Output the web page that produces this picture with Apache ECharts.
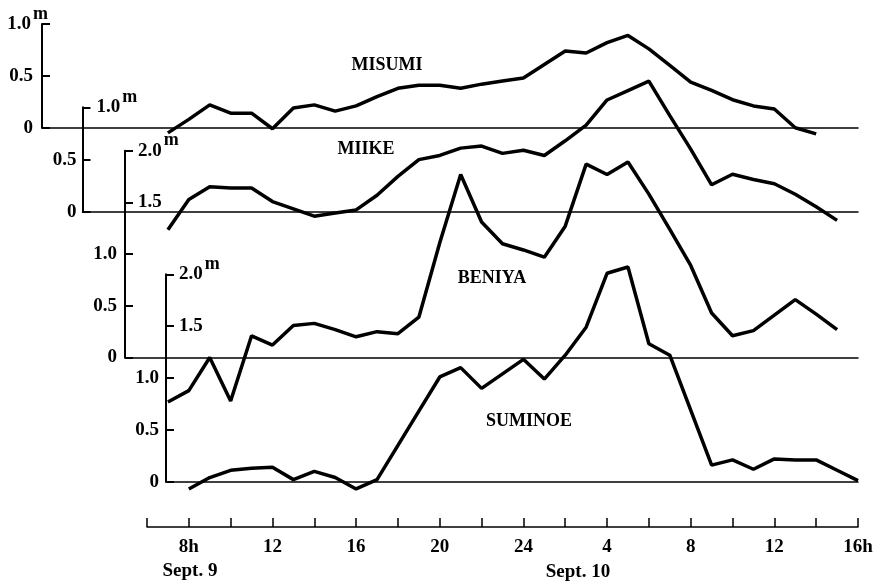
<!DOCTYPE html>
<html><head><meta charset="utf-8">
<script src="https://cdn.jsdelivr.net/npm/echarts@6/dist/echarts.min.js"></script>
<style>html,body{margin:0;padding:0;background:#fff}#c{width:879px;height:583px}</style>
</head><body><div id="c"></div>
<script>
// ---- data (hours counted from 0h Sept. 9; values in metres) ----
const stations = ['MISUMI', 'MIIKE', 'BENIYA', 'SUMINOE'];
const hoursMisumi = [7,8,9,10,11,12,13,14,15,16,17,18,19,20,21,22,23,24,25,26,27,28,29,30,31,32,33,34,35,36,37,38];
const misumi = [-0.05,0.08,0.22,0.14,0.14,-0.01,0.19,0.22,0.16,0.21,0.30,0.38,0.41,0.41,0.38,0.42,0.45,0.48,0.61,0.74,0.72,0.82,0.89,0.76,0.60,0.44,0.36,0.27,0.21,0.18,0.0,-0.06];
const hoursMiike = [7,8,9,10,11,12,13,14,15,16,17,18,19,20,21,22,23,24,25,26,27,28,29,30,31,32,33,34,35,36,37,38,39];
const miike = [-0.17,0.12,0.24,0.23,0.23,0.10,0.03,-0.04,-0.01,0.02,0.16,0.34,0.50,0.54,0.61,0.63,0.56,0.59,0.54,0.68,0.83,1.07,1.16,1.25,0.92,0.60,0.26,0.36,0.31,0.27,0.17,0.05,-0.08];
const hoursBeniya = [7,8,9,10,11,12,13,14,15,16,17,18,19,20,21,22,23,24,25,26,27,28,29,30,31,32,33,34,35,36,37,38,39];
const beniya = [-0.43,-0.32,0.0,-0.42,0.21,0.12,0.31,0.33,0.27,0.20,0.25,0.23,0.39,1.11,1.77,1.31,1.10,1.04,0.97,1.27,1.87,1.77,1.89,1.58,1.24,0.89,0.43,0.21,0.26,0.41,0.56,0.42,0.27];
const hoursSuminoe = [8,9,10,11,12,13,14,15,16,17,18,19,20,21,22,23,24,25,26,27,28,29,30,31,32,33,34,35,36,37,38,39,40];
const suminoe = [-0.07,0.04,0.11,0.13,0.14,0.02,0.10,0.04,-0.07,0.02,0.35,0.68,1.01,1.10,0.90,1.04,1.18,0.99,1.22,1.49,2.01,2.07,1.33,1.22,0.69,0.16,0.21,0.12,0.22,0.21,0.21,0.11,0.01];
const timeLabelHours = [8, 12, 16, 20, 24, 28, 32, 36, 40];
const timeLabels = ['8h', '12', '16', '20', '24', '4', '8', '12', '16h'];
const dayLabels = ['Sept. 9', 'Sept. 10'];

// ---- layout ----
const FONT = '"Liberation Serif", "DejaVu Serif", serif';
const X0 = 147, X1 = 858, H0 = 6, H1 = 40;
const pxH = (X1 - X0) / (H1 - H0);
const panels = [
  {left: 42,   top: 24,    zero: 127.7, max: 1, low: [0, 0.5],    hi: [1],      hiInside: false, lowMargin: 9, hiMargin: -6},
  {left: 82.5, top: 107.3, zero: 212,   max: 1, low: [0, 0.5],    hi: [1],      hiInside: true,  lowMargin: 6, hiMargin: 14},
  {left: 125,  top: 150.7, zero: 357.5, max: 2, low: [0, 0.5, 1], hi: [1.5, 2], hiInside: true,  lowMargin: 8, hiMargin: 13},
  {left: 166,  top: 274.3, zero: 481.7, max: 2, low: [0, 0.5, 1], hi: [1.5, 2], hiInside: true,  lowMargin: 7, hiMargin: 13}
];
const seriesData = [
  hoursMisumi.map((h, i) => [h, misumi[i]]),
  hoursMiike.map((h, i) => [h, miike[i]]),
  hoursBeniya.map((h, i) => [h, beniya[i]]),
  hoursSuminoe.map((h, i) => [h, suminoe[i]])
];
const fmt = v => (v === 0 ? '0' : v.toFixed(1));
const near = (arr, v) => arr.some(a => Math.abs(a - v) < 1e-6);
const labelStyle = {color: '#000', fontFamily: FONT, fontWeight: 'bold', fontSize: 19};
const rich = {
  a: {color: '#000', fontFamily: FONT, fontWeight: 'bold', fontSize: 19},
  m: {color: '#000', fontFamily: FONT, fontWeight: 'bold', fontSize: 18, padding: [0, 0, 20, 2]}
};

const grid = [], xAxis = [], yAxis = [], series = [];
panels.forEach((p, i) => {
  grid.push({left: p.left, top: p.top, width: X1 - p.left, height: p.zero - p.top});
  xAxis.push({type: 'value', gridIndex: i, min: H0 - (X0 - p.left) / pxH, max: H1,
    axisLine: {show: true, lineStyle: {color: '#000', width: 1.5}},
    axisTick: {show: false}, axisLabel: {show: false}, splitLine: {show: false}});
  yAxis.push({type: 'value', gridIndex: i, min: 0, max: p.max, interval: 0.5, position: 'left',
    axisLine: {show: true, lineStyle: {color: '#000', width: 2}},
    axisTick: {show: true, inside: true, length: 8, lineStyle: {color: '#000', width: 2}},
    axisLabel: Object.assign({margin: p.lowMargin, formatter: v => near(p.low, v) ? fmt(v) : ''}, labelStyle),
    splitLine: {show: false}});
  yAxis.push({type: 'value', gridIndex: i, min: 0, max: p.max, interval: 0.5, position: 'left',
    axisLine: {show: false}, axisTick: {show: false},
    axisLabel: {inside: p.hiInside, margin: p.hiMargin, rich: rich,
      formatter: v => near(p.hi, v) ? ('{a|' + fmt(v) + '}' + (Math.abs(v - p.max) < 1e-6 ? '{m|m}' : '')) : ''},
    splitLine: {show: false}});
  series.push({type: 'line', name: stations[i], xAxisIndex: i, yAxisIndex: 2 * i, data: seriesData[i],
    symbol: 'none', clip: false, lineStyle: {color: '#000', width: 3.5}, z: 5});
});

// time axis
grid.push({left: X0, width: X1 - X0, top: 480, height: 47});
xAxis.push({type: 'value', gridIndex: 4, min: H0, max: H1, interval: 2,
  axisLine: {show: true, lineStyle: {color: '#000', width: 1.5}},
  axisTick: {show: true, inside: true, length: 9, lineStyle: {color: '#000', width: 1.5}},
  axisLabel: Object.assign({margin: 11, formatter: v => {
    const k = timeLabelHours.indexOf(v); return k >= 0 ? timeLabels[k] : ''; }}, labelStyle),
  splitLine: {show: false}});
yAxis.push({type: 'value', gridIndex: 4, show: false});

const stationPos = [[387, 65.5], [366, 149], [492, 278.3], [529, 421.7]];
const dayPos = [[190, 571], [578, 572]];
const graphic = [];
stations.forEach((s, i) => graphic.push({type: 'text', x: stationPos[i][0], y: stationPos[i][1],
  style: {text: s, font: 'bold 18px ' + FONT, fill: '#000', align: 'center', verticalAlign: 'middle'}}));
dayLabels.forEach((s, i) => graphic.push({type: 'text', x: dayPos[i][0], y: dayPos[i][1],
  style: {text: s, font: 'bold 19px ' + FONT, fill: '#000', align: 'center', verticalAlign: 'middle'}}));

const chart = echarts.init(document.getElementById('c'));
chart.setOption({animation: false, backgroundColor: '#fff', grid, xAxis, yAxis, series, graphic});
</script></body></html>
